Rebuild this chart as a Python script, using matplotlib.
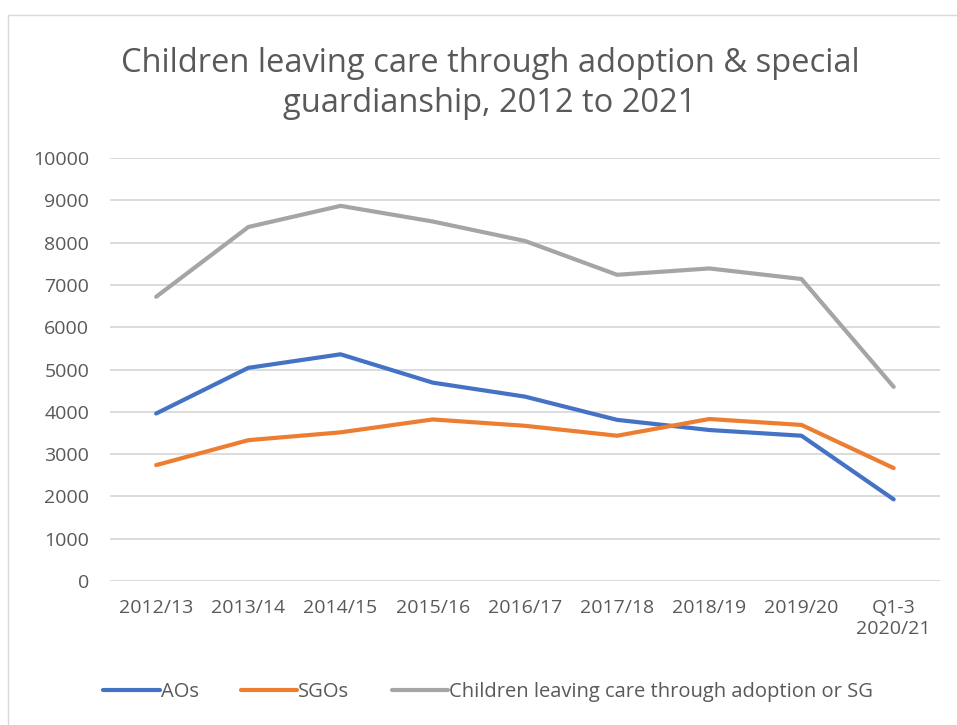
import matplotlib
matplotlib.use("Agg")
import matplotlib.pyplot as plt
from matplotlib.patches import Rectangle

# Data
CATEGORIES = ["2012/13", "2013/14", "2014/15", "2015/16", "2016/17",
              "2017/18", "2018/19", "2019/20", "Q1-3\n2020/21"]
AOS = [3960, 5040, 5360, 4690, 4360, 3810, 3570, 3435, 1930]
SGOS = [2740, 3330, 3515, 3820, 3670, 3435, 3830, 3690, 2670]
TOTAL = [6720, 8370, 8870, 8500, 8040, 7240, 7390, 7140, 4590]
Y_TICKS = list(range(0, 10001, 1000))

SERIES = [
    ("AOs", AOS, "#4472C4"),
    ("SGOs", SGOS, "#ED7D31"),
    ("Children leaving care through adoption or SG", TOTAL, "#A5A5A5"),
]

plt.rcParams["font.family"] = ["Open Sans", "DejaVu Sans"]
TEXT_COLOR = "#595959"

fig = plt.figure(figsize=(9.57, 7.25), dpi=100)
ax = fig.add_axes([0.115, 0.1986, 0.867, 0.5834])

x = list(range(len(CATEGORIES)))
for name, vals, color in SERIES:
    ax.plot(x, vals, color=color, linewidth=3, label=name,
            solid_capstyle="round", solid_joinstyle="round")

ax.set_ylim(0, 10000)
ax.set_xlim(-0.5, len(CATEGORIES) - 0.5)
ax.set_yticks(Y_TICKS)
ax.set_yticklabels([str(v) for v in Y_TICKS])
ax.set_xticks(x)
ax.set_xticklabels(CATEGORIES)
ax.grid(axis="y", color="#D9D9D9", linewidth=1.3)
ax.set_axisbelow(True)
for s in ax.spines.values():
    s.set_visible(False)
ax.tick_params(axis="both", length=0, labelsize=14, colors=TEXT_COLOR)
ax.tick_params(axis="y", pad=15)
ax.tick_params(axis="x", pad=13)

fig.text(0.512, 0.885, "Children leaving care through adoption & special\nguardianship, 2012 to 2021",
         ha="center", va="center", fontsize=23.5, color=TEXT_COLOR, linespacing=1.3)

leg = fig.legend(loc="center", bbox_to_anchor=(0.51, 0.0455), ncol=3, frameon=False,
                 fontsize=14.5, handlelength=2.8, columnspacing=2.1, handletextpad=0.05)
for t in leg.get_texts():
    t.set_color(TEXT_COLOR)

# chart area border
fig.patches.append(Rectangle((8 / 957, -0.01), 1.0, 1 - 15 / 725 + 0.01,
                             transform=fig.transFigure, fill=False,
                             edgecolor="#D9D9D9", linewidth=1))

fig.savefig("out.png", dpi=100)
